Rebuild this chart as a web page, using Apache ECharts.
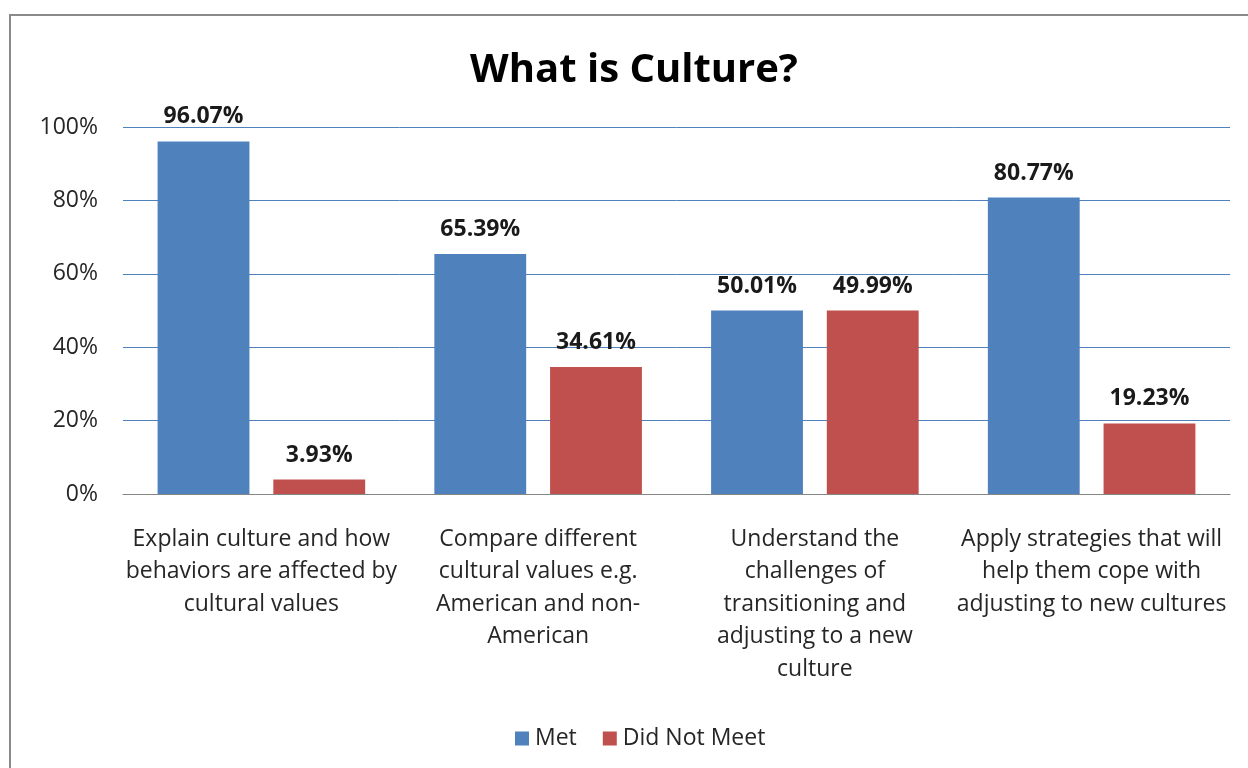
<!DOCTYPE html>
<html>
<head>
<meta charset="utf-8">
<script src="https://cdn.jsdelivr.net/npm/echarts@6/dist/echarts.min.js"></script>
<style>
  html, body { margin: 0; padding: 0; background: #ffffff; }
  #chart { width: 1248px; height: 768px; }
</style>
</head>
<body>
<div id="chart"></div>
<script>
// Survey outcomes per learning objective
const categories = [
  'Explain culture and how\nbehaviors are affected by\ncultural values',
  'Compare different\ncultural values e.g.\nAmerican and non-\nAmerican',
  'Understand the\nchallenges of\ntransitioning and\nadjusting to a new\nculture',
  'Apply strategies that will\nhelp them cope with\nadjusting to new cultures'
];
const metValues = [96.07, 65.39, 50.01, 80.77];
const didNotMeetValues = [3.93, 34.61, 49.99, 19.23];
const yTicks = [0, 20, 40, 60, 80, 100];

const FONT = '"Open Sans", sans-serif';
const chart = echarts.init(document.getElementById('chart'));

const labelStyle = {
  show: true,
  position: 'top',
  distance: 13,
  formatter: p => p.value.toFixed(2) + '%',
  fontFamily: FONT,
  fontWeight: 'bold',
  fontSize: 23,
  color: '#1a1a1a'
};

chart.setOption({
  backgroundColor: '#ffffff',
  animation: false,
  title: {
    text: 'What is Culture?',
    left: 629,
    textAlign: 'center',
    top: 46,
    textStyle: { fontFamily: FONT, fontWeight: 'bold', fontSize: 40, color: '#000000' }
  },
  graphic: [{
    type: 'rect',
    shape: { x: 10, y: 15, width: 1260, height: 780 },
    style: { fill: 'none', stroke: '#8a8a8a', lineWidth: 2 },
    silent: true
  }],
  legend: {
    bottom: 13,
    left: 510,
    itemWidth: 14,
    itemHeight: 14,
    itemGap: 26,
    icon: 'rect',
    textStyle: { fontFamily: FONT, fontSize: 23, color: '#262626', padding: [0, 0, 0, 1] },
    data: ['Met', 'Did Not Meet']
  },
  grid: { left: 123, right: 18, top: 127, bottom: 274, containLabel: false },
  xAxis: {
    type: 'category',
    data: categories,
    axisLine: { lineStyle: { color: '#868686', width: 1 } },
    axisTick: { show: false },
    axisLabel: {
      interval: 0,
      margin: 29,
      fontFamily: FONT,
      fontSize: 23,
      lineHeight: 32.5,
      color: '#262626',
      align: 'center'
    }
  },
  yAxis: {
    type: 'value',
    min: 0,
    max: 100,
    interval: 20,
    axisLine: { show: false },
    axisTick: { show: false },
    splitLine: { lineStyle: { color: '#4F81BD', width: 1 } },
    axisLabel: {
      margin: 25,
      fontFamily: FONT,
      fontSize: 23,
      color: '#262626',
      formatter: v => (yTicks.includes(v) ? v + '%' : '')
    }
  },
  series: [
    {
      name: 'Met',
      type: 'bar',
      data: metValues,
      barGap: '26%',
      barCategoryGap: '25%',
      itemStyle: { color: '#4F81BD' },
      label: labelStyle
    },
    {
      name: 'Did Not Meet',
      type: 'bar',
      data: didNotMeetValues,
      itemStyle: { color: '#C0504D' },
      label: labelStyle
    }
  ]
});
</script>
</body>
</html>
